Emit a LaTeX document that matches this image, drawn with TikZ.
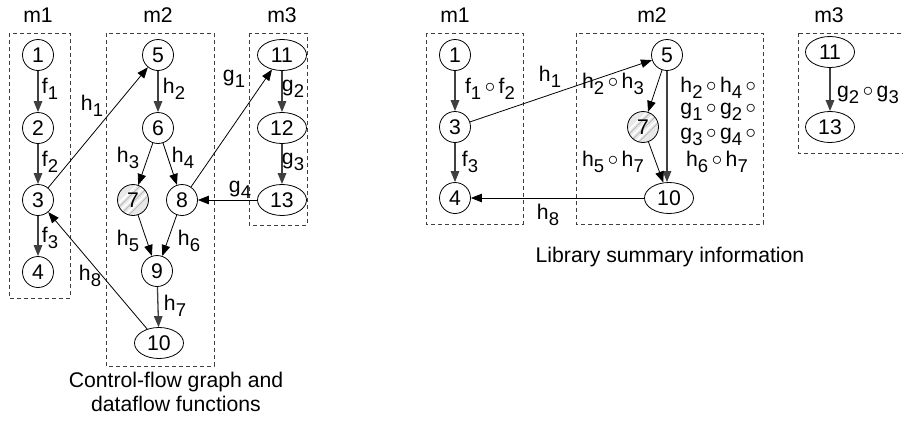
\documentclass[tikz,border=0pt]{standalone}
\usepackage{fontspec}
\setmainfont{Liberation Sans}
\usetikzlibrary{arrows.meta,shapes.geometric}
\newcommand\subs[1]{\raisebox{-5.5pt}{\fontsize{18.5}{18.5}\selectfont #1}}
\newcommand\cmp{\,\raisebox{1pt}{$\circ$}\,}
\begin{document}
\begin{tikzpicture}[x=1pt,y=-1pt,
  every node/.style={font=\fontsize{21.2}{24.5}\selectfont},
  cn/.style={circle,draw,line width=0.8pt,minimum size=31pt,inner sep=0pt},
  en/.style={ellipse,draw,line width=0.8pt,minimum width=49pt,minimum height=31pt,inner sep=0pt},
  hatch/.style={fill=gray!18,path picture={
    \foreach \d in {-9,0,9}{
      \draw[white,line width=1.6pt] ([xshift=\d pt-16pt,yshift=-14pt]path picture bounding box.center) -- ([xshift=\d pt+14pt,yshift=16pt]path picture bounding box.center);
      \draw[gray!55,line width=0.8pt] ([xshift=\d pt-14pt,yshift=-16pt]path picture bounding box.center) -- ([xshift=\d pt+16pt,yshift=14pt]path picture bounding box.center);}}},
  box/.style={draw=black!75,dash pattern=on 4pt off 3pt,line width=0.7pt},
  arr/.style={-{Triangle[length=11pt,width=8.5pt]},line width=0.8pt},
  varr/.style={arr,line width=1.3pt,draw=black!75},
  lab/.style={inner sep=0pt,anchor=center}]
\useasboundingbox (0,0) rectangle (903,421);

% ---------- left picture ----------
\draw[box] (9,33) rectangle (70,298);
\draw[box] (106,33) rectangle (214,366);
\draw[box] (249,33) rectangle (307,225);
\node[lab] (lm1) at (38,15) {m1};
\node[lab] (lm2) at (158,15) {m2};
\node[lab] (lm3) at (282,15) {m3};

\node[cn] (a1) at (38,55) {1};
\node[cn] (a2) at (38,128) {2};
\node[cn] (a3) at (38,200) {3};
\node[cn] (a4) at (38,272) {4};
\node[cn] (a5) at (158,55) {5};
\node[cn] (a6) at (158,128) {6};
\node[cn,hatch] (a7) at (133,200) {7};
\node[cn] (a8) at (182,200) {8};
\node[cn] (a9) at (157,271) {9};
\node[en] (a10) at (159,343) {10};
\node[en] (a11) at (282,55) {11};
\node[en] (a12) at (282,128) {12};
\node[en] (a13) at (282,200) {13};

\draw[varr] (a1) -- (a2);
\draw[varr] (a2) -- (a3);
\draw[varr] (a3) -- (a4);
\draw[arr] (a3) -- (a5);
\draw[varr] (a5) -- (a6);
\draw[arr] (a6) -- (a7);
\draw[arr] (a6) -- (a8);
\draw[arr] (a7) -- (a9);
\draw[arr] (a8) -- (a9);
\draw[varr] (a9) -- (a10);
\draw[arr] (a10) -- (a3);
\draw[arr] (a8) -- (a11);
\draw[varr] (a11) -- (a12);
\draw[varr] (a12) -- (a13);
\draw[arr] (a13) -- (a8);

\node[lab] (f1) at (50,89) {f\subs{1}};
\node[lab] (f2) at (50,162) {f\subs{2}};
\node[lab] (f3) at (50,238) {f\subs{3}};
\node[lab] (h1) at (92,106) {h\subs{1}};
\node[lab] (h2) at (174,89) {h\subs{2}};
\node[lab] (h3) at (128,158) {h\subs{3}};
\node[lab] (h4) at (183,158) {h\subs{4}};
\node[lab] (h5) at (128,241) {h\subs{5}};
\node[lab] (h6) at (189,241) {h\subs{6}};
\node[lab] (h7) at (175,306) {h\subs{7}};
\node[lab] (h8) at (90,276) {h\subs{8}};
\node[lab] (g1) at (234,79) {g\subs{1}};
\node[lab] (g2) at (293,89) {g\subs{2}};
\node[lab] (g3) at (293,162) {g\subs{3}};
\node[lab] (g4) at (240,190) {g\subs{4}};

\node[lab,align=center] (cap1) at (176,392) {Control-flow graph and\\dataflow functions};

% ---------- right picture ----------
\draw[box] (426,33) rectangle (523,224);
\draw[box] (576,33) rectangle (763,224);
\draw[box] (798,33) rectangle (915,153);
\node[lab] (rm1) at (455,15) {m1};
\node[lab] (rm2) at (652,15) {m2};
\node[lab] (rm3) at (829,15) {m3};

\node[cn] (b1) at (455,55) {1};
\node[cn] (b3) at (455,127) {3};
\node[cn] (b4) at (455,198) {4};
\node[cn] (b5) at (667,55) {5};
\node[cn,hatch] (b7) at (643,127) {7};
\node[en] (b10) at (669,198) {10};
\node[en] (b11) at (830,52) {11};
\node[en] (b13) at (830,127) {13};

\draw[varr] (b1) -- (b3);
\draw[varr] (b3) -- (b4);
\draw[arr] (b3) -- (b5);
\draw[arr] (b5) -- (b7);
\draw[varr] (b5.south) -- (b5.south |- b10.north);
\draw[arr] (b7) -- (b10);
\draw[arr] (b10) -- (b4);
\draw[varr] (b11) -- (b13);

\node[lab] (rf12) at (490,89) {f\subs{1}\cmp f\subs{2}};
\node[lab] (rf3) at (470,162) {f\subs{3}};
\node[lab] (rh1) at (550,77) {h\subs{1}};
\node[lab] (rh23) at (613,84) {h\subs{2}\cmp h\subs{3}};
\node[lab] (rh57) at (613,162) {h\subs{5}\cmp h\subs{7}};
\node[lab] (rc1) at (720,88) {h\subs{2}\cmp h\subs{4}\cmp};
\node[lab] (rc2) at (720,112) {g\subs{1}\cmp g\subs{2}\cmp};
\node[lab] (rc3) at (720,137) {g\subs{3}\cmp g\subs{4}\cmp};
\node[lab] (rc4) at (717,162) {h\subs{6}\cmp h\subs{7}};
\node[lab] (rh8) at (548,215) {h\subs{8}};
\node[lab] (rg23) at (868,95) {g\subs{2}\cmp g\subs{3}};

\node[lab] (cap2) at (670,257) {Library summary information};
\end{tikzpicture}
\end{document}
